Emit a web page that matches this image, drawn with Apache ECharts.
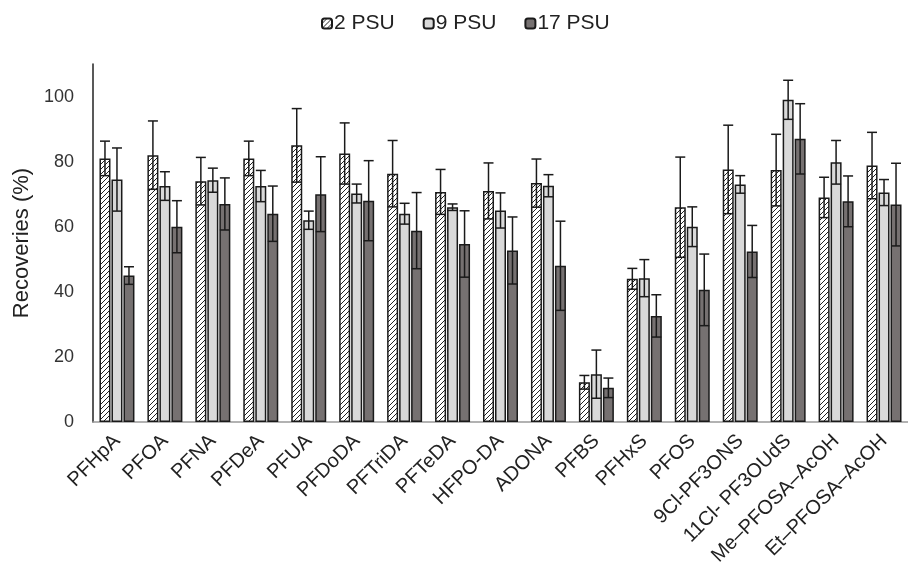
<!DOCTYPE html>
<html>
<head>
<meta charset="utf-8">
<script src="https://cdn.jsdelivr.net/npm/echarts@6/dist/echarts.min.js"></script>
<style>
  html, body { margin: 0; padding: 0; background: #fff; }
  #main { width: 908px; height: 572px; }
</style>
</head>
<body>
<div id="main"></div>
<script>
// categories and values
const categories = ['PFHpA', 'PFOA', 'PFNA', 'PFDeA', 'PFUA', 'PFDoDA', 'PFTriDA', 'PFTeDA', 'HFPO-DA',
    'ADONA', 'PFBS', 'PFHxS', 'PFOS', '9Cl-PF3ONS', '11Cl- PF3OUdS', 'Me\u2013PFOSA\u2013AcOH', 'Et\u2013PFOSA\u2013AcOH'];
const psu2 = [81, 82, 74, 81, 85, 82.5, 76.3, 70.7, 71, 73.4, 12.2, 44, 66, 77.6, 77.4, 69, 78.8];
const psu2Err = [5.3, 10.5, 7.3, 5.3, 11.3, 9.4, 10.2, 6.9, 8.6, 7.4, 2.1, 3.2, 15.4, 13.6, 11, 6.2, 10.2];
const psu9 = [74.5, 72.5, 74.3, 72.5, 62, 70.2, 64, 66, 65, 72.6, 14.7, 44.2, 60, 73, 99, 79.8, 70.5];
const psu9Err = [9.7, 4.4, 3.7, 4.8, 2.8, 2.9, 3.2, 1, 5.4, 3.4, 7.4, 5.7, 6.1, 2.7, 6, 6.7, 4];
const psu17 = [45, 60, 67, 64, 70, 68, 58.8, 54.7, 52.7, 48, 10.5, 32.6, 40.6, 52.4, 87, 67.8, 66.8];
const psu17Err = [2.7, 8, 8, 8.5, 11.5, 12.3, 11.7, 10.2, 10.3, 13.7, 3, 6.5, 11, 8, 10.8, 7.8, 12.7];
const yTicks = [0, 20, 40, 60, 80, 100];

// diagonal hatch for the 2 PSU bars
function hatchPattern() {
    let c = document.createElement('canvas');
    c.width = 5; c.height = 5;
    let ctx = c.getContext('2d');
    ctx.fillStyle = '#fff';
    ctx.fillRect(0, 0, 5, 5);
    ctx.strokeStyle = '#222';
    ctx.lineWidth = 1;
    ctx.beginPath();
    ctx.moveTo(-1, 6); ctx.lineTo(6, -1);
    ctx.moveTo(-1, 1); ctx.lineTo(1, -1);
    ctx.moveTo(4, 6); ctx.lineTo(6, 4);
    ctx.stroke();
    return c;
}

const barW = 11;
const step = 12; // bar width + 1px gap

function errSeries(values, errs, offset) {
    return {
        type: 'custom',
        z: 5,
        silent: true,
        renderItem: function (params, api) {
            let i = api.value(0);
            let v = api.value(1);
            let e = api.value(2);
            let hi = api.coord([i, v + e]);
            let lo = api.coord([i, v - e]);
            let x = hi[0] + offset;
            let half = 5;
            let style = { stroke: '#1a1a1a', lineWidth: 1.5 };
            return {
                type: 'group',
                children: [
                    { type: 'line', shape: { x1: x, y1: hi[1], x2: x, y2: lo[1] }, style: style },
                    { type: 'line', shape: { x1: x - half, y1: hi[1], x2: x + half, y2: hi[1] }, style: style },
                    { type: 'line', shape: { x1: x - half, y1: lo[1], x2: x + half, y2: lo[1] }, style: style }
                ]
            };
        },
        data: values.map((v, i) => [i, v, errs[i]])
    };
}

let chart = echarts.init(document.getElementById('main'));
let option = {
    animation: false,
    textStyle: { fontFamily: 'Liberation Sans, Arial, sans-serif' },
    legend: {
        data: ['2 PSU', '9 PSU', '17 PSU'],
        top: 8,
        left: 316,
        itemWidth: 10,
        itemHeight: 10,
        itemGap: 28,
        textStyle: { fontSize: 21, color: '#222', padding: [0, 0, 0, -3] }
    },
    grid: { left: 93, right: 0, top: 64, bottom: 150 },
    xAxis: {
        type: 'category',
        data: categories,
        axisLine: { lineStyle: { color: '#999', width: 1.5 } },
        axisTick: { show: false },
        axisLabel: { rotate: 45, fontSize: 20, color: '#222', margin: 16, interval: 0 }
    },
    yAxis: {
        type: 'value',
        min: 0,
        max: 110,
        interval: 20,
        name: 'Recoveries (%)',
        nameLocation: 'middle',
        nameGap: 58,
        nameTextStyle: { fontSize: 22, color: '#222' },
        axisLine: { show: true, lineStyle: { color: '#222', width: 1.5 } },
        axisTick: { show: false },
        splitLine: { show: false },
        axisLabel: {
            fontSize: 18, color: '#333', margin: 19,
            formatter: v => yTicks.indexOf(v) >= 0 ? String(v) : ''
        }
    },
    series: [
        {
            name: '2 PSU', type: 'bar', data: psu2, barWidth: barW, barGap: '9%',
            itemStyle: { color: { image: hatchPattern(), repeat: 'repeat' }, borderColor: '#1a1a1a', borderWidth: 1.5 }
        },
        {
            name: '9 PSU', type: 'bar', data: psu9, barWidth: barW, barGap: '9%',
            itemStyle: { color: '#d9d9d9', borderColor: '#1a1a1a', borderWidth: 1.5 }
        },
        {
            name: '17 PSU', type: 'bar', data: psu17, barWidth: barW, barGap: '9%',
            itemStyle: { color: '#767171', borderColor: '#1a1a1a', borderWidth: 1.5 }
        },
        errSeries(psu2, psu2Err, -step),
        errSeries(psu9, psu9Err, 0),
        errSeries(psu17, psu17Err, step)
    ]
};
chart.setOption(option);
</script>
</body>
</html>
